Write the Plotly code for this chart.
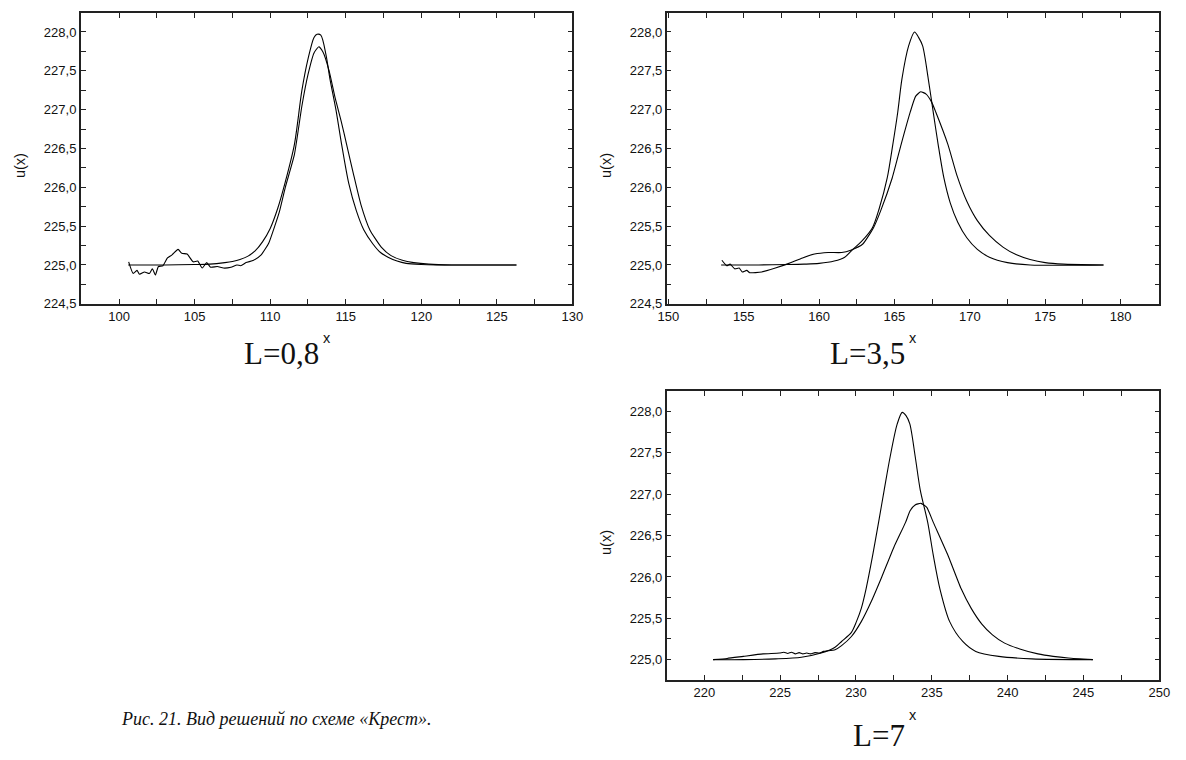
import plotly.graph_objects as go

# ---------------- data ----------------
# Panel 1 (L=0,8)
x_exact_1 = [100.6, 103.0, 105.0, 106.0, 107.0, 107.5, 108.0, 108.5, 109.0, 109.5, 110.0, 110.5, 111.0,
             111.6, 112.1, 112.5, 112.9, 113.1, 113.35, 113.7, 113.95, 114.35, 114.73, 115.2, 115.7, 116.2,
             116.8, 117.3, 117.8, 118.4, 119.0, 120.0, 121.0, 126.3]
u_exact_1 = [225.0, 225.0, 225.005, 225.01, 225.03, 225.045, 225.07, 225.11, 225.18, 225.3, 225.47, 225.73,
             226.07, 226.55, 227.25, 227.65, 227.93, 227.97, 227.96, 227.7, 227.4, 227.0, 226.55, 226.05,
             225.7, 225.45, 225.27, 225.16, 225.1, 225.05, 225.02, 225.005, 225.0, 225.0]
x_num_1 = [100.63, 100.93, 101.18, 101.35, 101.68, 102.0, 102.2, 102.4, 102.6, 102.9, 103.2, 103.5, 103.9,
           104.15, 104.5, 104.9, 105.2, 105.5, 105.8, 106.05, 106.5, 106.9, 107.4, 107.8, 108.05, 108.4,
           108.9, 109.4, 109.9, 110.3, 110.6, 111.0, 111.6, 112.1, 112.5, 112.9, 113.22, 113.5, 113.9,
           114.3, 114.7, 115.06, 115.5, 116.0, 116.6, 117.35, 118.0, 118.75, 119.5, 120.5, 122.0, 126.3]
u_num_1 = [225.04, 224.89, 224.93, 224.88, 224.91, 224.89, 224.95, 224.87, 224.98, 224.99, 225.09, 225.13,
           225.2, 225.15, 225.14, 225.04, 225.05, 224.96, 225.03, 224.97, 224.98, 224.96, 224.97, 225.0,
           224.99, 225.03, 225.06, 225.13, 225.28, 225.5, 225.68, 226.0, 226.42, 227.05, 227.45, 227.73,
           227.81, 227.74, 227.5, 227.15, 226.85, 226.55, 226.18, 225.78, 225.45, 225.23, 225.12, 225.06,
           225.03, 225.01, 225.0, 225.0]

# Panel 2 (L=3,5)
x_exact_2 = [153.5, 156.0, 158.0, 159.0, 160.0, 161.0, 161.7, 162.24, 162.8, 163.54, 163.98, 164.52, 164.89,
             165.22, 165.5, 165.94, 166.33, 166.6, 166.87, 167.24, 167.57, 167.9, 168.28, 168.7, 169.2,
             169.8, 170.5, 171.3, 172.5, 174.0, 178.87]
u_exact_2 = [225.0, 225.0, 225.005, 225.01, 225.02, 225.05, 225.1, 225.2, 225.3, 225.48, 225.72, 226.12,
             226.55, 226.97, 227.4, 227.82, 228.0, 227.93, 227.82, 227.4, 226.97, 226.55, 226.12, 225.8,
             225.55, 225.35, 225.2, 225.1, 225.03, 225.0, 225.0]
x_num_2 = [153.55, 153.87, 154.1, 154.4, 154.7, 154.9, 155.2, 155.4, 156.2, 157.1, 158.0, 158.9, 159.7,
           160.6, 161.5, 162.1, 162.9, 163.61, 164.09, 164.85, 165.44, 166.05, 166.4, 166.74, 167.1,
           167.46, 167.74, 168.55, 169.15, 169.8, 170.5, 171.3, 172.2, 173.1, 174.0, 175.0, 176.2, 178.87]
u_num_2 = [225.06, 224.99, 225.01, 224.95, 224.96, 224.91, 224.93, 224.9, 224.91, 224.96, 225.02, 225.09,
           225.14, 225.16, 225.16, 225.19, 225.27, 225.48, 225.7, 226.12, 226.55, 226.97, 227.17, 227.23,
           227.2, 227.1, 226.97, 226.55, 226.15, 225.82, 225.57, 225.38, 225.23, 225.13, 225.07, 225.03,
           225.01, 225.0]

# Panel 3 (L=7)
x_exact_3 = [220.58, 222.57, 224.7, 226.4, 227.7, 228.62, 229.05, 229.7, 230.03, 230.35, 230.67, 231.1,
             231.49, 231.86, 232.25, 232.72, 233.05, 233.3, 233.55, 233.91, 234.24, 234.73, 235.1, 235.53,
             236.18, 237.04, 237.9, 239.42, 241.6, 245.62]
u_exact_3 = [225.0, 225.0, 225.01, 225.03, 225.08, 225.15, 225.22, 225.33, 225.46, 225.62, 225.86, 226.26,
             226.66, 227.05, 227.45, 227.85, 227.99, 227.95, 227.85, 227.45, 227.05, 226.66, 226.26, 225.86,
             225.46, 225.22, 225.1, 225.04, 225.01, 225.0]
x_num_3 = [220.58, 221.5, 222.57, 223.87, 224.95, 225.25, 225.5, 225.75, 226.0, 226.25, 226.5, 226.75,
           227.0, 227.3, 227.6, 227.86, 228.62, 229.05, 229.7, 230.35, 231.0, 231.7, 232.5, 233.27, 233.57,
           233.9, 234.28, 234.67, 235.1, 236.07, 236.93, 237.6, 238.3, 239.0, 239.8, 240.8, 242.0, 243.0,
           244.0, 245.62]
u_num_3 = [225.0, 225.015, 225.04, 225.07, 225.08, 225.09, 225.075, 225.09, 225.07, 225.085, 225.07, 225.08,
           225.07, 225.085, 225.08, 225.1, 225.12, 225.17, 225.28, 225.46, 225.7, 226.0, 226.36, 226.66,
           226.8, 226.87, 226.89, 226.84, 226.66, 226.26, 225.86, 225.62, 225.43, 225.3, 225.2, 225.13,
           225.07, 225.04, 225.02, 225.0]

# ticks
x_ticks_1 = [100 + 2.5 * i for i in range(13)]
x_ticks_2 = [150 + 2.5 * i for i in range(13)]
x_ticks_3 = [220 + 2.5 * i for i in range(13)]
y_ticks_12 = [224.5 + 0.25 * i for i in range(15)]
y_ticks_3 = [225.0 + 0.25 * i for i in range(13)]

panel_labels = ["L=0,8", "L=3,5", "L=7"]
caption = "Рис. 21. Вид решений по схеме «Крест»."

# ---------------- figure ----------------
W, H = 1186, 760


def px_x(p):
    return p / W


def px_y(p):
    return 1 - p / H


def xlabels(vals):
    return [str(int(v)) if abs(v - round(v)) < 1e-9 and int(round(v)) % 5 == 0 else "" for v in vals]


def ylabels(vals):
    out = []
    for v in vals:
        if abs(v * 2 - round(v * 2)) < 1e-9:
            out.append(f"{v:.1f}".replace(".", ","))
        else:
            out.append("")
    return out


fig = go.Figure()
series = [
    (x_exact_1, u_exact_1, "x", "y", 0.8), (x_num_1, u_num_1, "x", "y", 0.5),
    (x_exact_2, u_exact_2, "x2", "y2", 0.8), (x_num_2, u_num_2, "x2", "y2", 0.5),
    (x_exact_3, u_exact_3, "x3", "y3", 0.8), (x_num_3, u_num_3, "x3", "y3", 0.5),
]
for xs, ys, xa, ya, sm in series:
    fig.add_trace(go.Scatter(x=xs, y=ys, mode="lines",
                             line=dict(color="black", width=1.1, shape="spline", smoothing=sm),
                             xaxis=xa, yaxis=ya, showlegend=False, hoverinfo="skip"))

tickfont = dict(family="Liberation Sans, Arial, sans-serif", size=13, color="#111")
common_ax = dict(showline=True, linecolor="#222", linewidth=1.5, mirror="ticks", ticks="inside",
                 ticklen=5, tickwidth=1.2, tickcolor="#222", showgrid=False, zeroline=False,
                 tickfont=tickfont, tickmode="array")

panels = [
    dict(xd=[73, 573], yd=[13, 307], xr=[97.46, 130.0], yr=[224.5, 228.246], xt=x_ticks_1, yt=y_ticks_12,
         xt_off=35, lab_off=50),
    dict(xd=[669, 1170], yd=[13, 307], xr=[149.89, 182.57], yr=[224.5, 228.246], xt=x_ticks_2, yt=y_ticks_12,
         xt_off=35, lab_off=50),
    dict(xd=[669, 1170], yd=[395, 687], xr=[217.52, 250.0], yr=[224.757, 228.25], xt=x_ticks_3, yt=y_ticks_3,
         xt_off=36, lab_off=56),
]

layout = dict(width=W, height=H, margin=dict(l=0, r=0, t=0, b=0), paper_bgcolor="white",
              plot_bgcolor="white", showlegend=False)
for i, p in enumerate(panels):
    sfx = "" if i == 0 else str(i + 1)
    layout["xaxis" + sfx] = dict(common_ax, domain=[px_x(p["xd"][0]), px_x(p["xd"][1])], range=p["xr"],
                                 anchor="y" + sfx, tickvals=p["xt"], ticktext=xlabels(p["xt"]))
    layout["yaxis" + sfx] = dict(common_ax, domain=[px_y(p["yd"][1]), px_y(p["yd"][0])], range=p["yr"],
                                 anchor="x" + sfx, tickvals=p["yt"], ticktext=ylabels(p["yt"]))
fig.update_layout(**layout)

annos = []
ax_font = dict(family="Liberation Sans, Arial, sans-serif", size=14.5, color="#111")
big_font = dict(family="Liberation Serif, Times New Roman, serif", size=31, color="#111")
for i, p in enumerate(panels):
    cx = (p["xd"][0] + p["xd"][1]) / 2
    cy = (p["yd"][0] + p["yd"][1]) / 2 + 7
    annos.append(dict(x=px_x(p["xd"][0] - 62), y=px_y(cy), xref="paper", yref="paper", text="u(x)",
                      textangle=-90, showarrow=False, font=ax_font, xanchor="center", yanchor="middle"))
    annos.append(dict(x=px_x(cx), y=px_y(p["yd"][1] + p["xt_off"]), xref="paper", yref="paper", text="x",
                      showarrow=False, font=ax_font, xanchor="center", yanchor="middle"))
    annos.append(dict(x=px_x(cx - 6), y=px_y(p["yd"][1] + p["lab_off"]), xref="paper", yref="paper",
                      text=panel_labels[i], showarrow=False, font=big_font, xanchor="right",
                      yanchor="middle"))

annos.append(dict(x=px_x(112), y=px_y(727), xref="paper", yref="paper", text="<i>" + caption + "</i>",
                  showarrow=False, xanchor="left", yanchor="middle",
                  font=dict(family="Liberation Serif, Times New Roman, serif", size=18, color="#111")))
fig.update_layout(annotations=annos)

fig.write_html("out.html")
